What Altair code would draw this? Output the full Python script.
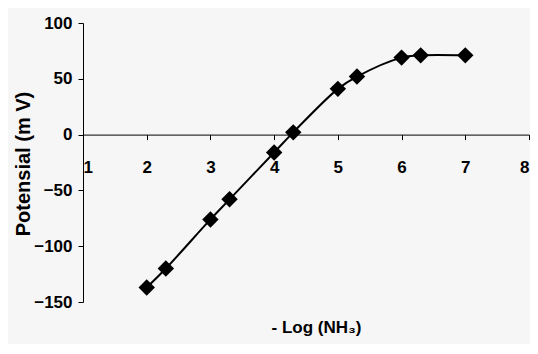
import altair as alt
import pandas as pd

log_nh3 = [2.0, 2.3, 3.0, 3.3, 4.0, 4.3, 5.0, 5.3, 6.0, 6.3, 7.0]
potensial = [-137, -120, -76, -58, -16, 2, 41, 52, 69, 71, 71]
x_ticks = [1, 2, 3, 4, 5, 6, 7, 8]
y_ticks = [-150, -100, -50, 0, 50, 100]

df = pd.DataFrame({"x": log_nh3, "y": potensial})

FONT = "Liberation Sans"

W, H = 446, 279
zero_from_top = H * (100 - 0) / 250.0

x_enc = alt.X(
    "x:Q",
    scale=alt.Scale(domain=[1, 8], nice=False, zero=False),
    axis=alt.Axis(
        values=x_ticks,
        format="d",
        title="- Log (NH₃)",
        offset=-(H - zero_from_top),
        tickSize=5,
        labelPadding=20,
        labelFlush=True,
        labelFontSize=17,
        labelFont=FONT,
        labelFontWeight="bold",
        labelColor="black",
        domainColor="black",
        tickColor="black",
        grid=False,
        titleFont=FONT,
        titleFontSize=17,
        titleFontWeight="bold",
        titleColor="black",
        titleX=233,
        titleY=185,
        titleBaseline="top",
        titleAlign="center",
    ),
)

y_enc = alt.Y(
    "y:Q",
    scale=alt.Scale(domain=[-150, 100], nice=False, zero=False),
    axis=alt.Axis(
        values=y_ticks,
        format="d",
        title="Potensial (m V)",
        tickSize=5,
        labelPadding=6,
        labelFontSize=17,
        labelFont=FONT,
        labelFontWeight="bold",
        labelColor="black",
        domainColor="black",
        tickColor="black",
        grid=False,
        titleFont=FONT,
        titleFontSize=20,
        titleFontWeight="bold",
        titleColor="black",
        titleAngle=270,
        titleX=-60,
        titleY=H / 2 + 1,
        titleAlign="center",
        titleBaseline="middle",
    ),
)

line = alt.Chart(df).mark_line(
    color="black", strokeWidth=2, interpolate="catmull-rom"
).encode(x=x_enc, y=y_enc)

points = alt.Chart(df).mark_point(
    shape="diamond", filled=True, color="black", size=270, opacity=1
).encode(x="x:Q", y="y:Q")

chart = (
    alt.layer(line, points)
    .properties(
        width=W,
        height=H,
        autosize=alt.AutoSizeParams(type="none"),
        padding={"left": 75, "top": 15, "right": 1, "bottom": 42},
        background="#f6f6f6",
    )
    .configure_view(stroke=None)
)

chart.save("out.html", embed_options={"renderer": "svg", "actions": False})
